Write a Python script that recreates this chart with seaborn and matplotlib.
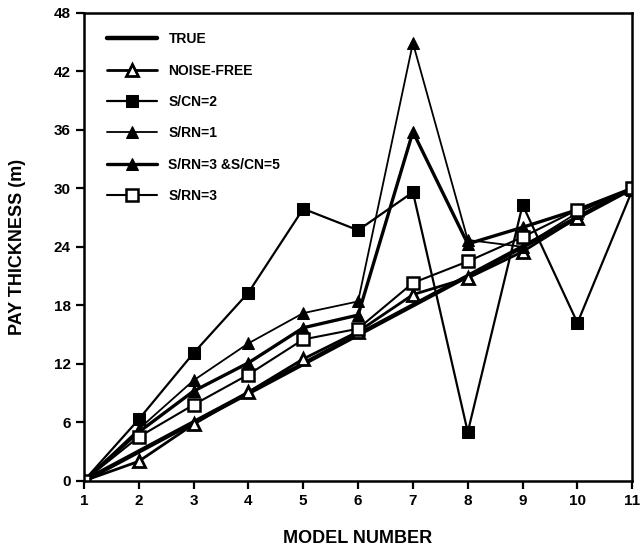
import matplotlib
matplotlib.use("Agg")
import matplotlib.pyplot as plt
import numpy as np
import seaborn as sns

sns.set_theme(style="ticks")
plt.rcParams["font.family"] = ["Liberation Sans", "DejaVu Sans"]
plt.rcParams["font.weight"] = "bold"
plt.rcParams["text.color"] = "black"
plt.rcParams["axes.labelcolor"] = "black"

models = np.arange(1, 12)

true_vals = [0, 3, 6, 9, 12, 15, 18, 21, 24, 27, 30]
noise_free = [0, 2.0, 5.8, 9.1, 12.5, 15.3, 19.1, 20.8, 23.5, 27.0, 30]
s_cn2 = [0, 6.3, 13.1, 19.3, 27.9, 25.7, 29.6, 5.0, 28.3, 16.2, 29.8]
s_rn1 = [0, 5.3, 10.3, 14.1, 17.2, 18.4, 44.9, 24.7, 24.0, 27.5, 30]
s_rn3_cn5 = [0, 5.0, 9.2, 12.1, 15.7, 17.0, 35.8, 24.3, 26.0, 27.8, 30]
s_rn3 = [0, 4.5, 7.8, 10.9, 14.5, 15.6, 20.3, 22.5, 25.0, 27.8, 30]

series = [
    ("TRUE", true_vals, dict(lw=3.2, marker=None)),
    ("NOISE-FREE", noise_free, dict(lw=2.0, marker="^", mfc="white", mew=2.0)),
    ("S/CN=2", s_cn2, dict(lw=1.6, marker="s", mfc="black")),
    ("S/RN=1", s_rn1, dict(lw=1.3, marker="^", mfc="black")),
    ("S/RN=3 &S/CN=5", s_rn3_cn5, dict(lw=2.4, marker="^", mfc="black")),
    ("S/RN=3", s_rn3, dict(lw=1.5, marker="s", mfc="white", mew=1.8)),
]

fig = plt.figure(figsize=(6.4, 5.54), dpi=100)
ax = fig.add_axes([0.131, 0.132, 0.857, 0.845])

for name, vals, style in series:
    sns.lineplot(x=models, y=vals, ax=ax, color="black", label=name,
                 markersize=8, mec="black", **style)

ax.set_xlim(1, 11)
ax.set_ylim(0, 48)
ax.set_xticks(models)
ax.set_yticks(np.arange(0, 49, 6))
for side in ["left", "bottom", "top", "right"]:
    ax.spines[side].set_color("black")
    ax.spines[side].set_linewidth(1.8)
ax.tick_params(axis="both", direction="out", length=6, width=1.6,
               labelsize=11, colors="black")
for lab in ax.get_xticklabels() + ax.get_yticklabels():
    lab.set_fontweight("bold")

ax.set_xlabel("MODEL NUMBER", fontsize=13, fontweight="bold", labelpad=16)
ax.set_ylabel("PAY THICKNESS (m)", fontsize=13, fontweight="bold", labelpad=20)

ax.legend(loc="upper left", bbox_to_anchor=(0.02, 0.985), frameon=False,
          handlelength=3.6, labelspacing=1.25, handletextpad=0.8,
          prop={"weight": "bold", "size": 10}, labelcolor="black")

fig.savefig("out.png", dpi=100)
